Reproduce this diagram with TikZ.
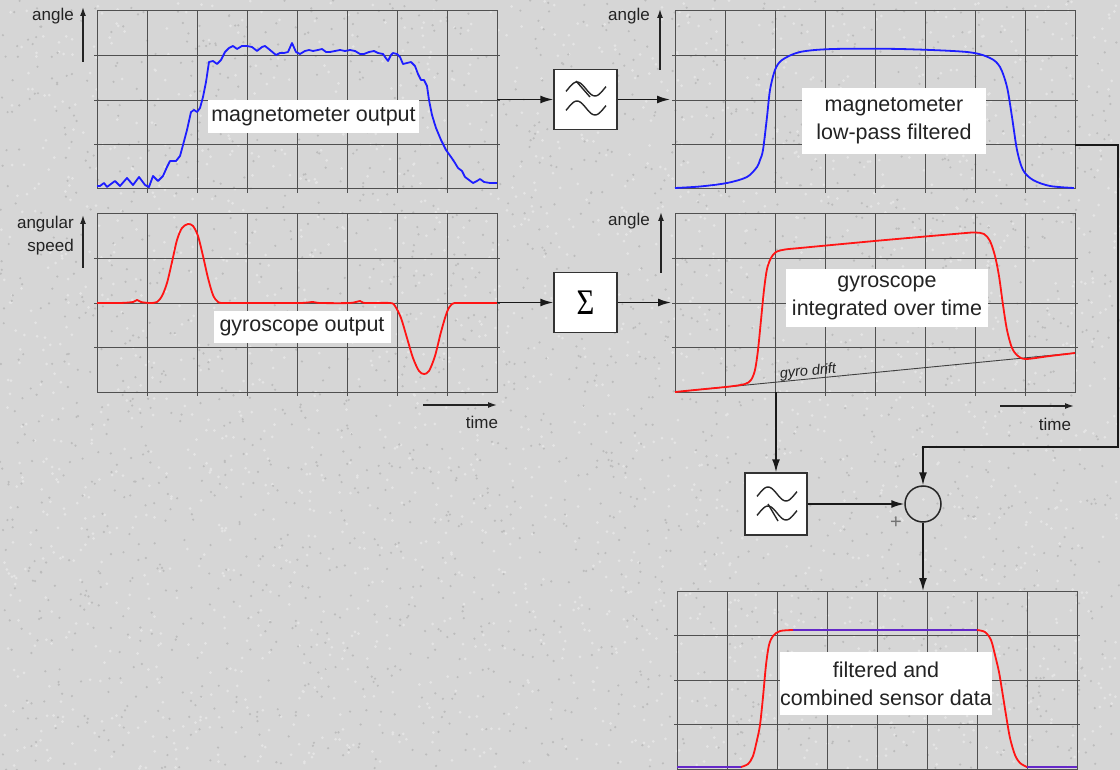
\documentclass[tikz,border=0pt]{standalone}
\usepackage{fontspec}
\setmainfont{Liberation Sans}
\newfontfamily\serifsym{Liberation Serif}
\usetikzlibrary{arrows.meta}
\definecolor{bg}{RGB}{214,214,214}
\definecolor{gridc}{RGB}{80,80,80}
\definecolor{txt}{RGB}{35,35,35}
\definecolor{cblue}{RGB}{30,30,255}
\definecolor{cred}{RGB}{255,20,20}
\definecolor{cpurple}{RGB}{100,40,200}
\newcommand\mkplot[3]{%
  \node[plotframe, anchor=north west] (#1) at (#2,#3) {};
  \foreach \i in {1,...,7}{\draw[gridline] (#2+50*\i,#3) -- (#2+50*\i,#3+182);}
  \foreach \j in {1,2,3}{\draw[gridline] (#2-3,#3+44.5*\j) -- (#2+403,#3+44.5*\j);}
}
\newcommand\tildesym[2]{%
  \draw[symline] plot[smooth, domain=0:1, samples=25] ({#1-20+40*\x},{#2-7*sin(-20+400*\x)});
}
\begin{document}
\begin{tikzpicture}[x=1pt,y=-1pt,
  plotframe/.style={draw=gridc, line width=1pt, minimum width=400pt, minimum height=178pt, inner sep=0pt, outer sep=0pt},
  gridline/.style={draw=gridc, line width=0.9pt},
  lbl/.style={fill=white, text=txt, font=\fontsize{21.5}{28}\selectfont, align=center, inner sep=0pt},
  small/.style={text=txt, font=\fontsize{17}{23}\selectfont, inner sep=0pt},
  axisarrow/.style={draw=txt, line width=1.4pt, -{Latex[length=9pt,width=6pt]}},
  conn/.style={draw=black!90, line width=1.6pt, -{Latex[length=13pt,width=8pt]}},
  blockbox/.style={draw=black!80, fill=white, line width=1.5pt, minimum width=63pt, minimum height=60pt, inner sep=0pt},
  symline/.style={draw=black!85, line width=1.4pt},
  bluec/.style={draw=cblue, line width=1.8pt, line join=round},
  redc/.style={draw=cred, line width=1.8pt, line join=round},
  purc/.style={draw=cpurple, line width=2.4pt},
]
\useasboundingbox (0,0) rectangle (1120,770);
\fill[bg] (0,0) rectangle (1120,770);
\pgfmathsetseed{12}
\foreach \k in {1,...,2200}{\pgfmathsetmacro\xx{rnd*1120}\pgfmathsetmacro\yy{rnd*770}\fill[white!35!bg] (\xx,\yy) circle (1.5);}
\foreach \k in {1,...,2200}{\pgfmathsetmacro\xx{rnd*1120}\pgfmathsetmacro\yy{rnd*770}\fill[bg!88!black] (\xx,\yy) circle (1.2);}

% plots
\mkplot{p1}{97}{11}
\mkplot{p2}{97}{214}
\mkplot{p3}{675}{11}
\mkplot{p4}{675}{214}
\mkplot{p5}{677}{591}

% axis arrows and axis labels
\draw[axisarrow] (83,62) -- (83,7);
\node[small, anchor=east] (la1) at (74,16) {angle};
\draw[axisarrow] (83,268) -- (83,215);
\node[small, anchor=east, align=right] (la2) at (74,236) {angular\\speed};
\draw[axisarrow] (660,70) -- (660,9);
\node[small, anchor=east] (la3) at (650,16) {angle};
\draw[axisarrow] (661,273) -- (661,212);
\node[small, anchor=east] (la4) at (650,221) {angle};
\draw[axisarrow] (423,405) -- (497,405);
\node[small] (lt1) at (482,422) {time};
\draw[axisarrow] (1000,406) -- (1074,406);
\node[small] (lt2) at (1055,424) {time};

% magnetometer raw
\draw[bluec] plot coordinates {(97,186) (100,186) (104,183) (107,187) (111,184) (115,181) (120,186) (127,178) (133,185) (139,177) (145,185) (149,187) (153,176) (158,181) (163,176) (167,167) (170,161) (176,161) (180,156) (183,145) (187,130) (191,112) (194,110) (197,112) (200,108) (203,97) (206,82) (209,62) (213,61) (217,64) (221,60) (225,52) (229,48) (233,46) (237,49) (242,46) (247,46) (252,47) (257,51) (262,47) (265,46) (270,50) (276,55) (280,53) (284,53) (288,52) (292,43) (296,52) (300,54) (305,51) (309,50) (313,51) (318,50) (322,49) (326,52) (330,52) (335,51) (340,50) (345,51) (350,50) (355,51) (360,54) (364,54) (369,52) (374,51) (378,53) (383,54) (385,57) (388,61) (391,55) (393,53) (397,54) (400,57) (403,64) (407,63) (411,62) (415,66) (418,74) (421,80) (424,80) (427,86) (429,100) (432,115) (436,128) (441,140) (446,150) (451,157) (455,163) (458,168) (462,171) (465,177) (469,180) (473,183) (477,181) (480,179) (484,182) (490,183) (497,183)};

% magnetometer filtered
\draw[bluec] plot[smooth] coordinates {(675,188) (700,186.5) (727,183) (747,177) (757,167) (760,160) (763,150) (767,117) (770,90) (775,70) (782,60) (800,52) (833,49) (900,49) (967,52) (990,58) (1000,67) (1007,87) (1012,117) (1017,150) (1023,170) (1033,180) (1050,186) (1074,188)};

% gyroscope output
\draw[redc] plot[smooth] coordinates {(97,303) (120,303) (133,302) (137,300) (141,302) (150,303) (157,302) (162,296) (167,283) (172,262) (177,240) (182,228) (188,224) (193,226) (198,236) (203,256) (208,278) (213,295) (218,302) (225,303) (260,303) (300,303) (313,302) (320,303) (350,303) (360,301) (365,303) (390,303) (395,306) (401,318) (407,338) (413,358) (419,371) (424,374) (429,371) (435,356) (441,332) (447,312) (452,304) (460,303) (497,303)};

% gyro integrated
\draw[draw=black!75, line width=0.9pt] (675,392) -- (1075,353);
\node[text=txt, font=\fontsize{14.5}{16}\itshape, rotate=5.6, inner sep=0pt] (drift) at (808,372) {gyro drift};
\draw[redc] plot[smooth] coordinates {(675,392) (700,389.5) (730,386.5) (745,384) (751,380) (755,370) (758,350) (761,320) (764,290) (767,269) (771,258) (776,252) (785,249.5) (800,248) (880,240.5) (960,233.5) (975,232.5) (984,234) (990,241) (995,256) (999,276) (1003,305) (1007,330) (1012,348) (1018,356) (1026,359) (1050,356) (1075,353)};

% combined
\draw[purc] (677,767) -- (742,767);
\draw[purc] (792,630) -- (978,630);
\draw[purc] (1026,767) -- (1077,767);
\draw[redc] plot[smooth] coordinates {(741,767) (748,764) (753,756) (757,740) (760,725) (763,697) (766,665) (769,645) (773,636) (780,631) (793,630)};
\draw[redc] plot[smooth] coordinates {(977,630) (985,632) (991,640) (995,655) (999,672) (1002,690) (1006,715) (1010,738) (1015,755) (1020,763) (1027,767)};

% labels
\node[lbl, minimum width=211pt, minimum height=33pt] (b1) at (313.5,116.5) {magnetometer output};
\node[lbl, minimum width=184pt, minimum height=66pt] (b2) at (894,121) {magnetometer\\low-pass filtered};
\node[lbl, minimum width=177pt, minimum height=31pt] (b3) at (302,327) {gyroscope output};
\node[lbl, minimum width=202pt, minimum height=58pt] (b4) at (887,298) {gyroscope\\integrated over time};
\node[lbl, minimum width=212pt, minimum height=63pt] (b5) at (886,683.5) {filtered and\\combined sensor data};

% blocks
\node[blockbox] (f1) at (585.5,99.5) {};
\tildesym{586}{89}
\draw[symline] (576,81) -- (590,97);
\tildesym{586}{108}
\node[blockbox] (sig) at (585.5,302.5) {\serifsym\fontsize{36}{36}\selectfont\scalebox{0.85}[1]{Σ}};
\node[blockbox, minimum width=62pt, minimum height=62pt] (f2) at (776,504) {};
\tildesym{777}{494}
\tildesym{777}{513}
\draw[symline] (768,504) -- (778,521);
\node[draw=black!85, line width=1.5pt, circle, minimum size=36pt, inner sep=0pt] (sum) at (923,504) {};
\node[text=black!55, font=\fontsize{20}{20}\selectfont, inner sep=0pt] (plus) at (896,523) {+};

% connectors
\coordinate (c1) at (1118,145);
\coordinate (c2) at (1118,447);
\draw[conn] (f1.west -| p1.east) -- (f1.west);
\draw[conn, shorten >=5pt] (f1.east) -- (f1.east -| p3.west);
\draw[conn] (sig.west -| p2.east) -- (sig.west);
\draw[conn, shorten >=4pt] (sig.east) -- (sig.east -| p4.west);
\draw[conn] (f2.north |- p4.south) -- (f2.north);
\draw[conn] (f2.east) -- (sum.west);
\draw[conn] (c1 -| p3.east) -- (c1) -- (c2) -| (sum.north);
\draw[conn] (sum.south) -- (sum.south |- p5.north);
\end{tikzpicture}
\end{document}
